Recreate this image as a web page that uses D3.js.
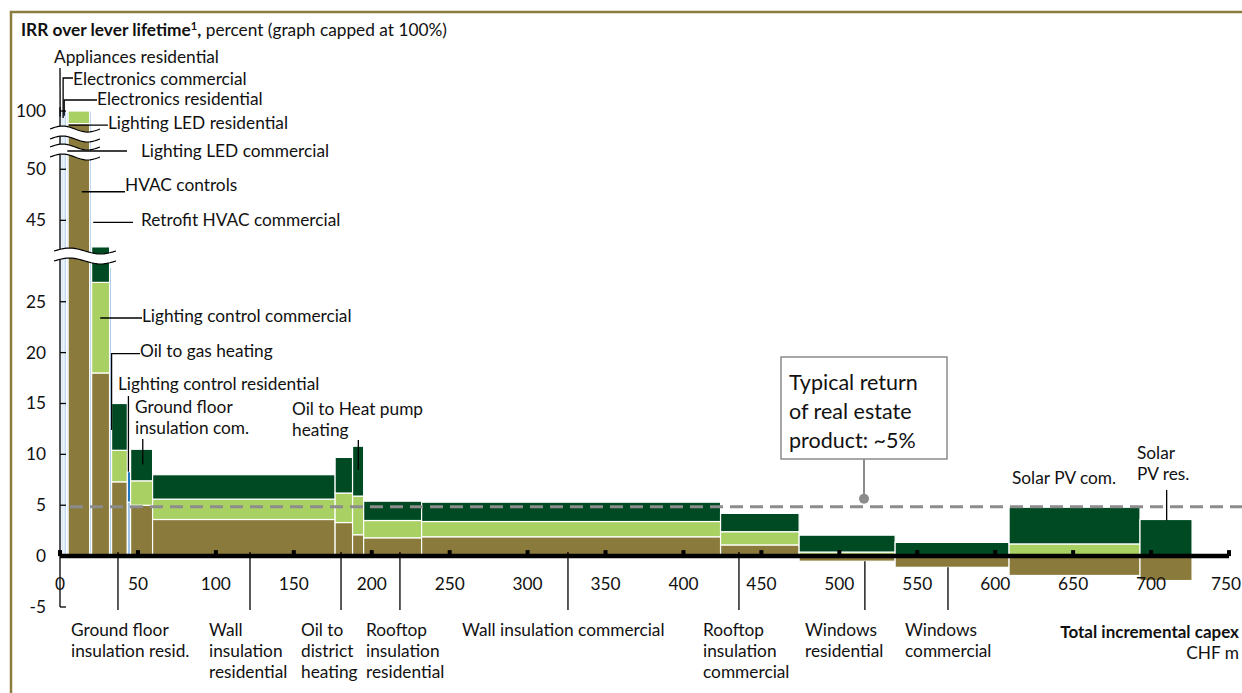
<!DOCTYPE html>
<html>
<head>
<meta charset="utf-8">
<script src="https://cdn.jsdelivr.net/npm/d3@7"></script>
<style>
body { margin: 0; background: #fff; }
svg { display: block; font-family: Lato, "Open Sans", sans-serif; }
</style>
</head>
<body>
<div id="viz"></div>
<script>
// levers along the curve, left to right
const levers = ["Appliances residential", "Electronics commercial", "Electronics residential",
  "Lighting LED commercial", "HVAC controls", "Retrofit HVAC commercial", "Lighting control commercial",
  "Oil to gas heating", "Ground floor insulation resid.", "Lighting control residential",
  "Ground floor insulation com.", "Wall insulation residential", "Oil to district heating",
  "Oil to Heat pump heating", "Rooftop insulation residential", "Wall insulation commercial",
  "Rooftop insulation commercial", "Windows residential", "Windows commercial", "Solar PV com.", "Solar PV res."]
// incremental capex, CHF m (bar width)
const capex = [1.3, 1.3, 1.5, 1.1, 13.9, 1.2, 11.5, 1.3, 10.1, 2.1, 14.1, 117.1, 11.2, 7.1, 37.2, 191.8, 50.4, 61.6, 73.1, 84.0, 33.4]
const kind = ["blue", "blue", "blue", "blue", "green", "blue", "green", "blue", "green", "blue", "green",
  "green", "green", "green", "green", "green", "green", "green", "green", "green", "green"]
// IRR levels, percent (capped at 100)
const irrBase = [100, 100, 100, 100, 97.3, 100, 18.0, 28.4, 7.3, 5.3, 5.0, 3.6, 3.3, 2.1, 1.8, 1.9, 1.1, -0.5, -1.1, -1.9, -2.4]
const irrMid = [100, 100, 100, 100, 100, 100, 26.9, 28.4, 10.4, 8.3, 7.4, 5.6, 6.2, 5.9, 3.5, 3.4, 2.4, 0.4, 0, 1.2, 0]
const irrTop = [100, 100, 100, 100, 100, 100, 42.4, 28.4, 15.0, 8.3, 10.5, 8.0, 9.7, 10.8, 5.4, 5.3, 4.2, 2.06, 1.35, 4.8, 3.6]

const xTicks = [0, 50, 100, 150, 200, 250, 300, 350, 400, 450, 500, 550, 600, 650, 700, 750]
const yTicks = [-5, 0, 5, 10, 15, 20, 25, 45, 50, 100]
const typicalReturn = 4.85

const olive = '#8a7a3c', lightGreen = '#a9d062', darkGreen = '#004a23'
const lightBlue = '#9dc3e6', midBlue = '#1f78c1'
const fs = 17.3

const svg = d3.select('#viz').append('svg')
  .attr('width', 1242)
  .attr('height', 693)

// scales - y is broken twice (25..45 and 50..100)
const x = d3.scaleLinear().domain([0, 750]).range([60, 1229])
const y = d3.scaleLinear()
  .domain([-5, 29.1, 41.9, 51.2, 97, 100])
  .range([607, 260, 252, 157, 125, 111])

// frame
svg.append('path')
  .attr('d', 'M11,693V12H1242')
  .attr('fill', 'none')
  .attr('stroke', '#8b7d3f')
  .attr('stroke-width', 2.5)

// title
let title = svg.append('text').attr('x', 21).attr('y', 36).attr('font-size', 17.3).attr('fill', '#111')
title.append('tspan').attr('font-weight', 'bold').text('IRR over lever lifetime')
title.append('tspan').attr('font-weight', 'bold').attr('font-size', 11).attr('dy', -6).text('1')
title.append('tspan').attr('font-weight', 'bold').attr('dy', 6).text(',')
title.append('tspan').text(' percent (graph capped at 100%)')

// build stacked segments
let segs = []
let start = 0
levers.forEach(function(name, i) {
  let x0 = start, x1 = start + capex[i]
  start = x1
  if (kind[i] == 'green') {
    let b = irrBase[i], m = irrMid[i], t = irrTop[i]
    segs.push({x0: x0, x1: x1, a: 0, b: b, c: olive})
    let lo = Math.max(b, 0)
    if (m > lo) segs.push({x0: x0, x1: x1, a: lo, b: m, c: lightGreen})
    lo = Math.max(lo, m)
    if (t > lo) segs.push({x0: x0, x1: x1, a: lo, b: t, c: darkGreen})
  } else {
    segs.push({x0: x0, x1: x1, a: 0, b: irrBase[i], c: lightBlue})
    if (irrMid[i] > irrBase[i]) segs.push({x0: x0, x1: x1, a: irrBase[i], b: irrMid[i], c: midBlue})
  }
})

svg.append('g')
  .selectAll('rect')
  .data(segs)
  .join('rect')
  .attr('x', d => x(d.x0))
  .attr('width', d => x(d.x1) - x(d.x0))
  .attr('y', d => y(Math.max(d.a, d.b)))
  .attr('height', d => Math.abs(y(d.a) - y(d.b)))
  .attr('fill', d => d.c)
  .attr('stroke', 'white')
  .attr('stroke-width', 1.2)

// y axis
let yAxis = svg.append('g').attr('stroke', '#000')
yAxis.append('line')
  .attr('x1', x(0)).attr('x2', x(0))
  .attr('y1', y(100) - 4).attr('y2', y(-5))
  .attr('stroke-width', 1.3)
yAxis.selectAll('.tick')
  .data(yTicks)
  .join('line')
  .attr('x1', x(0)).attr('x2', x(0) + 6)
  .attr('y1', d => y(d)).attr('y2', d => y(d))
  .attr('stroke-width', 1.3)
svg.append('g')
  .selectAll('text')
  .data(yTicks)
  .join('text')
  .attr('x', 46)
  .attr('y', d => y(d) + 6)
  .attr('text-anchor', 'end')
  .attr('font-size', fs)
  .attr('fill', '#111')
  .text(d => d)

// axis breaks
function wave(x0, x1, yy) {
  let pts = d3.range(0, 21).map(k => [x0 + (x1 - x0) * k / 20, yy - 3 * Math.sin(Math.PI * 2 * k / 20)])
  return pts
}
const breaks = [[29.1, 41.9, 54, 116], [52.6, 64.1, 50, 100], [78.4, 89.8, 50, 100]]
breaks.forEach(function(b) {
  let lo = wave(b[2], b[3], y(b[0]) + 1)
  let hi = wave(b[2], b[3], y(b[1]) - 1)
  let line = d3.line()
  svg.append('path')
    .attr('d', line(hi.concat(lo.slice().reverse())) + 'Z')
    .attr('fill', 'white')
  svg.append('path').attr('d', line(lo)).attr('fill', 'none').attr('stroke', '#000').attr('stroke-width', 1.2)
  svg.append('path').attr('d', line(hi)).attr('fill', 'none').attr('stroke', '#000').attr('stroke-width', 1.2)
})

// x axis
svg.append('line')
  .attr('x1', x(0)).attr('x2', x(750))
  .attr('y1', y(0)).attr('y2', y(0))
  .attr('stroke', '#000')
  .attr('stroke-width', 4.5)
svg.append('g')
  .selectAll('rect')
  .data(xTicks)
  .join('rect')
  .attr('x', d => x(d) - 2)
  .attr('y', y(0) - 6)
  .attr('width', 4)
  .attr('height', 6)
  .attr('fill', '#000')
svg.append('g')
  .selectAll('text')
  .data(xTicks)
  .join('text')
  .attr('x', d => d == 750 ? 1241 : x(d))
  .attr('y', 590)
  .attr('text-anchor', d => d == 750 ? 'end' : 'middle')
  .attr('font-size', fs)
  .attr('fill', '#111')
  .text(d => d)

// typical return line
svg.append('line')
  .attr('x1', 70).attr('x2', 1242)
  .attr('y1', y(typicalReturn)).attr('y2', y(typicalReturn))
  .attr('stroke', '#8c8c8c')
  .attr('stroke-width', 3)
  .attr('stroke-dasharray', '13,7')

// callout
svg.append('rect')
  .attr('x', 781).attr('y', 357).attr('width', 166).attr('height', 102)
  .attr('fill', 'white').attr('stroke', '#8c8c8c').attr('stroke-width', 1.5)
svg.append('line')
  .attr('x1', 864).attr('x2', 864).attr('y1', 459).attr('y2', y(typicalReturn) - 8)
  .attr('stroke', '#8c8c8c').attr('stroke-width', 2)
svg.append('circle')
  .attr('cx', 864).attr('cy', y(typicalReturn) - 8).attr('r', 5)
  .attr('fill', '#8c8c8c')
svg.append('text')
  .attr('font-size', 21.5).attr('fill', '#111')
  .selectAll('tspan')
  .data(['Typical return', 'of real estate', 'product: ~5%'])
  .join('tspan')
  .attr('x', 789)
  .attr('y', (d, i) => 390 + i * 29)
  .text(d => d)

// labels with leader lines above the bars
const notes = [
  {lines: ['Appliances residential'], tx: 54, ty: 63, pts: [[60, 68], [x(0.1), y(98.8)]]},
  {lines: ['Electronics commercial'], tx: 73, ty: 85, pts: [[73, 78], [x(2), 78], [x(2), y(98.5)]]},
  {lines: ['Electronics residential'], tx: 97, ty: 105, pts: [[97, 100], [x(2.7), 100], [x(2.7), y(99)]]},
  {lines: ['Lighting LED residential'], tx: 108, ty: 129, pts: [[108, y(96.8)], [x(5.5), y(96.8)]]},
  {lines: ['Lighting LED commercial'], tx: 141, ty: 157, pts: [[127, 151], [x(4.7), 151]]},
  {lines: ['HVAC controls'], tx: 125, ty: 191, pts: [[125, y(47.8)], [x(14), y(47.8)]]},
  {lines: ['Retrofit HVAC commercial'], tx: 141, ty: 226, pts: [[133, y(44.8)], [x(21.3), y(44.8)]]},
  {lines: ['Lighting control commercial'], tx: 142, ty: 322, pts: [[142, y(23.4)], [x(25.8), y(23.4)]]},
  {lines: ['Oil to gas heating'], tx: 140, ty: 357, pts: [[140, y(19.9)], [x(33.1), y(19.9)], [x(33.1), y(12.4)]]},
  {lines: ['Lighting control residential'], tx: 118, ty: 390, pts: [[x(43.9), 396], [x(43.9), y(8.3)]]},
  {lines: ['Ground floor', 'insulation com.'], tx: 135, ty: 413, pts: [[x(53.1), 439], [x(53.1), y(9.0)]]},
  {lines: ['Oil to Heat pump', 'heating'], tx: 292, ty: 415, pts: [[x(191.4), 440], [x(191.4), y(8.5)]]},
  {lines: ['Solar PV com.'], tx: 1012, ty: 484, pts: []},
  {lines: ['Solar', 'PV res.'], tx: 1137, ty: 459, pts: [[x(710), 490], [x(710), y(3.5)]]}
]

let noteG = svg.append('g')
notes.forEach(function(n) {
  if (n.pts.length) {
    noteG.append('path')
      .attr('d', d3.line()(n.pts))
      .attr('fill', 'none')
      .attr('stroke', '#000')
      .attr('stroke-width', 1.3)
  }
  noteG.append('text')
    .attr('font-size', fs).attr('fill', '#111')
    .selectAll('tspan')
    .data(n.lines)
    .join('tspan')
    .attr('x', n.tx)
    .attr('y', (d, i) => n.ty + i * 21)
    .text(d => d)
})

// labels under the axis
const bottomNotes = [
  {lines: ['Ground floor', 'insulation resid.'], tx: 71, at: 37.2, from: 0},
  {lines: ['Wall', 'insulation', 'residential'], tx: 209, at: 121.9, from: 0},
  {lines: ['Oil to', 'district', 'heating'], tx: 301, at: 180.3, from: 0},
  {lines: ['Rooftop', 'insulation', 'residential'], tx: 366, at: 218.1, from: 0},
  {lines: ['Wall insulation commercial'], tx: 462, at: 325.9, from: 0},
  {lines: ['Rooftop', 'insulation', 'commercial'], tx: 703, at: 435.6, from: 0},
  {lines: ['Windows', 'residential'], tx: 805, at: 516.4, from: -0.5},
  {lines: ['Windows', 'commercial'], tx: 905, at: 569.7, from: -1.1}
]
bottomNotes.forEach(function(n) {
  noteG.append('line')
    .attr('x1', x(n.at)).attr('x2', x(n.at))
    .attr('y1', n.from < 0 ? y(n.from) : y(0) - 4)
    .attr('y2', 610)
    .attr('stroke', '#000')
    .attr('stroke-width', 1.3)
  noteG.append('text')
    .attr('font-size', fs).attr('fill', '#111')
    .selectAll('tspan')
    .data(n.lines)
    .join('tspan')
    .attr('x', n.tx)
    .attr('y', (d, i) => 636 + i * 21)
    .text(d => d)
})

// x axis title
svg.append('text')
  .attr('x', 1239).attr('y', 638)
  .attr('text-anchor', 'end')
  .attr('font-size', 17).attr('font-weight', 'bold').attr('fill', '#111')
  .text('Total incremental capex')
svg.append('text')
  .attr('x', 1239).attr('y', 659)
  .attr('text-anchor', 'end')
  .attr('font-size', fs).attr('fill', '#111')
  .text('CHF m')
</script>
</body>
</html>
